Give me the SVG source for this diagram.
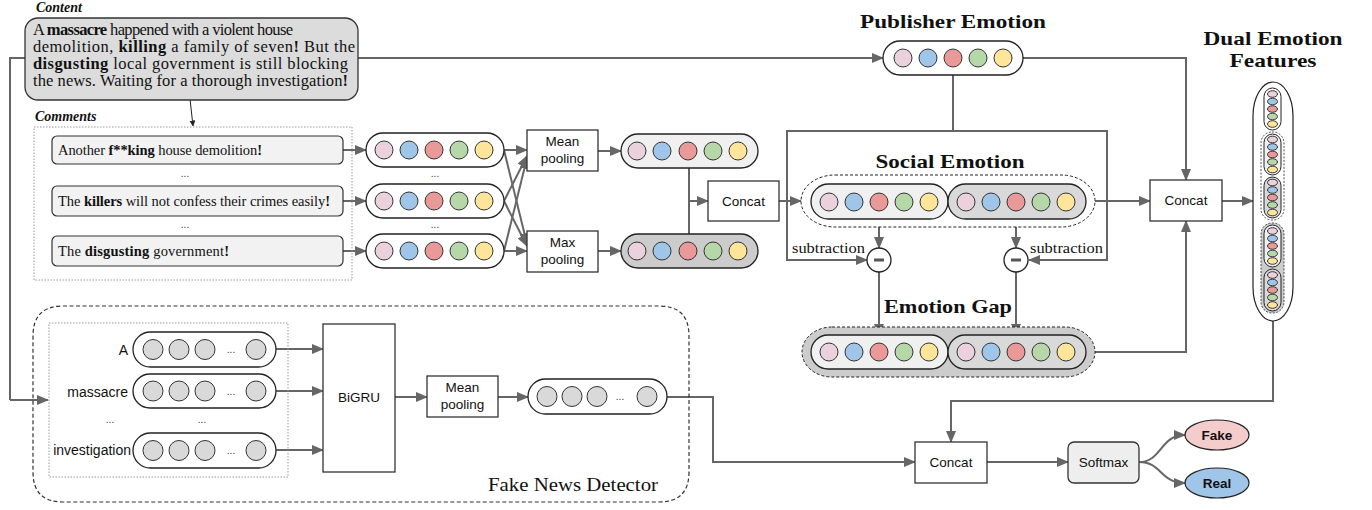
<svg xmlns="http://www.w3.org/2000/svg" width="1372" height="510" viewBox="0 0 1372 510">
<defs>
<marker id="ah" markerUnits="userSpaceOnUse" markerWidth="12" markerHeight="10" refX="11" refY="5" orient="auto">
<path d="M0,0 L12,5 L0,10 z" fill="#666"/>
</marker>
<marker id="ahs" markerUnits="userSpaceOnUse" markerWidth="6" markerHeight="6" refX="5.5" refY="3" orient="auto">
<path d="M0,0 L6,3 L0,6 z" fill="#222"/>
</marker>
<style>
.cn{fill:none;stroke:#666;stroke-width:2;marker-end:url(#ah)}
.ln{fill:none;stroke:#666;stroke-width:2}
.box{fill:#fff;stroke:#333;stroke-width:1.3}
.ov{fill:#fff;stroke:#222;stroke-width:1.3}
.c1{fill:#ead1dc;stroke:#333;stroke-width:1}
.c2{fill:#9fc5e8;stroke:#333;stroke-width:1}
.c3{fill:#ea9999;stroke:#333;stroke-width:1}
.c4{fill:#b6d7a8;stroke:#333;stroke-width:1}
.c5{fill:#ffe599;stroke:#333;stroke-width:1}
.cg{fill:#d9d9d9;stroke:#333;stroke-width:1}
.sans{font-family:"Liberation Sans",Arial,sans-serif;fill:#111}
.serif{font-family:"Liberation Serif","Times New Roman",serif;fill:#111}
.ttl{font-family:"Liberation Serif","Times New Roman",serif;font-weight:bold;font-size:19px;fill:#111;text-anchor:middle}
.lbl{font-family:"Liberation Sans",Arial,sans-serif;font-size:13.5px;fill:#111;text-anchor:middle}
.dots{font-family:"Liberation Sans",Arial,sans-serif;font-size:10px;fill:#333;text-anchor:middle}
</style>
</defs>
<rect width="1372" height="510" fill="#fff"/>

<!-- connectors -->
<g id="connectors">
<path class="ln" d="M25,58 H10 V400"/>
<path class="cn" d="M10,400 H48"/>
<path class="cn" d="M358,58 H883"/>
<path d="M190,99 L193,126" fill="none" stroke="#222" stroke-width="1" marker-end="url(#ahs)"/>
<path class="cn" d="M343,150 H366"/>
<path class="cn" d="M343,201 H366"/>
<path class="cn" d="M343,251 H366"/>
<path class="cn" d="M504,150 H527"/>
<path class="cn" d="M504,150 L527,244"/>
<path class="cn" d="M504,201 L527,156"/>
<path class="cn" d="M504,201 L527,246"/>
<path class="cn" d="M504,251 L527,158"/>
<path class="cn" d="M504,251 H527"/>
<path class="cn" d="M598,151 H621"/>
<path class="cn" d="M598,251 H621"/>
<path class="ln" d="M689,167 V234"/>
<path class="cn" d="M689,201 H708"/>
<path class="cn" d="M779,201 H801"/>
<path class="ln" d="M953,75 V131"/>
<path class="cn" d="M953,131 H787 V260 H867"/>
<path class="cn" d="M953,131 H1107 V260 H1029"/>
<path class="cn" d="M879,219 V248"/>
<path class="cn" d="M1016,219 V248"/>
<path class="cn" d="M879,272 V335"/>
<path class="cn" d="M1016,272 V335"/>
<path class="cn" d="M1023,58 H1186 V180"/>
<path class="cn" d="M1095,201 H1150"/>
<path class="cn" d="M1095,352 H1186 V221"/>
<path class="cn" d="M1222,201 H1253"/>
<path class="cn" d="M1273,321 V401 H951 V442"/>
<path class="cn" d="M276,349 H323"/>
<path class="cn" d="M276,391 H323"/>
<path class="cn" d="M276,450 H323"/>
<path class="cn" d="M395,397 H427"/>
<path class="cn" d="M498,397 H528"/>
<path class="cn" d="M667,397 H713 V462 H915"/>
<path class="cn" d="M987,462 H1068"/>
<path class="cn" d="M1139,462 C1162,462 1160,435 1185,435"/>
<path class="cn" d="M1139,462 C1162,462 1160,483 1185,483"/>
</g>

<!-- content -->
<g id="content">
<text class="serif" x="36" y="12" font-size="14" font-weight="bold" font-style="italic">Content</text>
<rect x="25" y="18" width="333" height="82" rx="13" fill="#dcdcdc" stroke="#333" stroke-width="1.3"/>
<text class="serif" x="33" y="35" font-size="16.5" textLength="260" lengthAdjust="spacing">A <tspan font-weight="bold">massacre</tspan> happened with a violent house</text>
<text class="serif" x="33" y="52" font-size="16.5" textLength="322" lengthAdjust="spacing">demolition, <tspan font-weight="bold">killing</tspan> a family of seven<tspan font-weight="bold">!</tspan> But the</text>
<text class="serif" x="33" y="69" font-size="16.5" textLength="315" lengthAdjust="spacing"><tspan font-weight="bold">disgusting</tspan> local government is still blocking</text>
<text class="serif" x="33" y="86" font-size="16.5" textLength="315" lengthAdjust="spacing">the news. Waiting for a thorough investigation<tspan font-weight="bold">!</tspan></text>
</g>

<!-- comments -->
<g id="comments">
<text class="serif" x="35" y="121" font-size="14" font-weight="bold" font-style="italic">Comments</text>
<rect x="34" y="127" width="318" height="153" fill="none" stroke="#999" stroke-width="1" stroke-dasharray="1.5,1.5"/>
<rect x="52" y="136" width="291" height="28" rx="5" fill="#f2f2f2" stroke="#333" stroke-width="1.2"/>
<text class="serif" x="58" y="155" font-size="14.5" textLength="204" lengthAdjust="spacing">Another <tspan font-weight="bold">f**king</tspan> house demolition<tspan font-weight="bold">!</tspan></text>
<text class="dots" x="185" y="177">...</text>
<rect x="52" y="186" width="291" height="30" rx="5" fill="#f2f2f2" stroke="#333" stroke-width="1.2"/>
<text class="serif" x="58" y="206" font-size="14.5" textLength="272" lengthAdjust="spacing">The <tspan font-weight="bold">killers</tspan> will not confess their crimes easily<tspan font-weight="bold">!</tspan></text>
<text class="dots" x="185" y="228">...</text>
<rect x="52" y="236" width="291" height="30" rx="5" fill="#f2f2f2" stroke="#333" stroke-width="1.2"/>
<text class="serif" x="58" y="256" font-size="14.5" textLength="171" lengthAdjust="spacing">The <tspan font-weight="bold">disgusting</tspan> government<tspan font-weight="bold">!</tspan></text>
</g>

<!-- comment emotion vectors -->
<g id="comment-emotions">
<rect class="ov" x="366" y="133" width="138" height="34" rx="17"/>
<circle class="c1" cx="384" cy="150" r="9"/><circle class="c2" cx="409" cy="150" r="9"/><circle class="c3" cx="434" cy="150" r="9"/><circle class="c4" cx="459" cy="150" r="9"/><circle class="c5" cx="484" cy="150" r="9"/>
<text class="dots" x="435" y="177">...</text>
<rect class="ov" x="366" y="184" width="138" height="34" rx="17"/>
<circle class="c1" cx="384" cy="201" r="9"/><circle class="c2" cx="409" cy="201" r="9"/><circle class="c3" cx="434" cy="201" r="9"/><circle class="c4" cx="459" cy="201" r="9"/><circle class="c5" cx="484" cy="201" r="9"/>
<text class="dots" x="435" y="228">...</text>
<rect class="ov" x="366" y="234" width="138" height="34" rx="17"/>
<circle class="c1" cx="384" cy="251" r="9"/><circle class="c2" cx="409" cy="251" r="9"/><circle class="c3" cx="434" cy="251" r="9"/><circle class="c4" cx="459" cy="251" r="9"/><circle class="c5" cx="484" cy="251" r="9"/>
</g>

<g id="mean-pooling">
<rect class="box" x="527" y="130" width="71" height="41"/>
<text class="lbl" x="562.5" y="146">Mean</text>
<text class="lbl" x="562.5" y="163">pooling</text>
</g>
<g id="max-pooling">
<rect class="box" x="527" y="231" width="71" height="41"/>
<text class="lbl" x="562.5" y="247">Max</text>
<text class="lbl" x="562.5" y="264">pooling</text>
</g>

<g id="mean-vector">
<rect x="621" y="134" width="137" height="34" rx="17" fill="#f0f0f0" stroke="#222" stroke-width="1.3"/>
<circle class="c1" cx="637" cy="151" r="9"/><circle class="c2" cx="662" cy="151" r="9"/><circle class="c3" cx="688" cy="151" r="9"/><circle class="c4" cx="713" cy="151" r="9"/><circle class="c5" cx="738" cy="151" r="9"/>
</g>
<g id="max-vector">
<rect x="621" y="234" width="137" height="34" rx="17" fill="#cccccc" stroke="#222" stroke-width="1.3"/>
<circle class="c1" cx="637" cy="251" r="9"/><circle class="c2" cx="662" cy="251" r="9"/><circle class="c3" cx="688" cy="251" r="9"/><circle class="c4" cx="713" cy="251" r="9"/><circle class="c5" cx="738" cy="251" r="9"/>
</g>

<g id="concat1">
<rect class="box" x="708" y="181" width="71" height="40"/>
<text class="lbl" x="743.5" y="206">Concat</text>
</g>

<!-- publisher emotion -->
<g id="publisher-emotion">
<text class="ttl" x="953" y="28" textLength="186" lengthAdjust="spacingAndGlyphs">Publisher Emotion</text>
<rect class="ov" x="883" y="41" width="140" height="34" rx="17"/>
<circle class="c1" cx="903" cy="58" r="9"/><circle class="c2" cx="928" cy="58" r="9"/><circle class="c3" cx="953" cy="58" r="9"/><circle class="c4" cx="978" cy="58" r="9"/><circle class="c5" cx="1003" cy="58" r="9"/>
</g>

<!-- social emotion -->
<g id="social-emotion">
<text class="ttl" x="950" y="168" textLength="149" lengthAdjust="spacingAndGlyphs">Social Emotion</text>
<rect x="801" y="175" width="294" height="52" rx="34" ry="26" fill="#fff" stroke="#222" stroke-width="1" stroke-dasharray="3,2"/>
<rect x="811" y="184" width="137" height="35" rx="17.5" fill="#f0f0f0" stroke="#222" stroke-width="1.3"/>
<rect x="948" y="184" width="138" height="35" rx="17.5" fill="#d9d9d9" stroke="#222" stroke-width="1.3"/>
<circle class="c1" cx="829" cy="202" r="9"/><circle class="c2" cx="854" cy="202" r="9"/><circle class="c3" cx="879" cy="202" r="9"/><circle class="c4" cx="904" cy="202" r="9"/><circle class="c5" cx="929" cy="202" r="9"/>
<circle class="c1" cx="966" cy="202" r="9"/><circle class="c2" cx="991" cy="202" r="9"/><circle class="c3" cx="1016" cy="202" r="9"/><circle class="c4" cx="1041" cy="202" r="9"/><circle class="c5" cx="1066" cy="202" r="9"/>
</g>

<g id="subtraction-left">
<text class="serif" x="792" y="253" font-size="15" textLength="73" lengthAdjust="spacingAndGlyphs">subtraction</text>
<circle cx="879" cy="260" r="12" fill="#fff" stroke="#222" stroke-width="1.3"/>
<line x1="874" y1="260" x2="884" y2="260" stroke="#555" stroke-width="3"/>
</g>
<g id="subtraction-right">
<text class="serif" x="1030" y="253" font-size="15" textLength="73" lengthAdjust="spacingAndGlyphs">subtraction</text>
<circle cx="1016" cy="260" r="12" fill="#fff" stroke="#222" stroke-width="1.3"/>
<line x1="1011" y1="260" x2="1021" y2="260" stroke="#555" stroke-width="3"/>
</g>

<!-- emotion gap -->
<g id="emotion-gap">
<text class="ttl" x="948" y="313" textLength="128" lengthAdjust="spacingAndGlyphs">Emotion Gap</text>
<rect x="802" y="327" width="293" height="50" rx="30" ry="25" fill="#cccccc" stroke="#222" stroke-width="1" stroke-dasharray="3,2"/>
<rect x="811" y="335" width="137" height="34" rx="17" fill="#f0f0f0" stroke="#222" stroke-width="1.3"/>
<rect x="948" y="335" width="138" height="34" rx="17" fill="#d9d9d9" stroke="#222" stroke-width="1.3"/>
<circle class="c1" cx="829" cy="352" r="9"/><circle class="c2" cx="854" cy="352" r="9"/><circle class="c3" cx="879" cy="352" r="9"/><circle class="c4" cx="904" cy="352" r="9"/><circle class="c5" cx="929" cy="352" r="9"/>
<circle class="c1" cx="966" cy="352" r="9"/><circle class="c2" cx="991" cy="352" r="9"/><circle class="c3" cx="1016" cy="352" r="9"/><circle class="c4" cx="1041" cy="352" r="9"/><circle class="c5" cx="1066" cy="352" r="9"/>
</g>

<g id="concat2">
<rect class="box" x="1150" y="180" width="72" height="41"/>
<text class="lbl" x="1186" y="205">Concat</text>
</g>

<!-- dual emotion features -->
<g id="dual-emotion">
<text class="ttl" x="1273" y="45" textLength="139" lengthAdjust="spacingAndGlyphs">Dual Emotion</text>
<text class="ttl" x="1273" y="67" textLength="87" lengthAdjust="spacingAndGlyphs">Features</text>
<rect x="1253" y="82" width="40" height="239" rx="20" ry="34" fill="#fff" stroke="#222" stroke-width="1.2"/>
<rect x="1264" y="88" width="17" height="42" rx="8.5" fill="#fff" stroke="#222" stroke-width="1"/>
<rect x="1261" y="132" width="23" height="88" rx="11" fill="#fff" stroke="#222" stroke-width="0.8" stroke-dasharray="2,1.5"/>
<rect x="1264" y="134" width="17" height="41" rx="8.5" fill="#f0f0f0" stroke="#222" stroke-width="1"/>
<rect x="1264" y="177" width="17" height="41" rx="8.5" fill="#d9d9d9" stroke="#222" stroke-width="1"/>
<rect x="1261" y="223" width="23" height="90" rx="11" fill="#cccccc" stroke="#222" stroke-width="0.8" stroke-dasharray="2,1.5"/>
<rect x="1264" y="225" width="17" height="42" rx="8.5" fill="#f0f0f0" stroke="#222" stroke-width="1"/>
<rect x="1264" y="269" width="17" height="42" rx="8.5" fill="#d9d9d9" stroke="#222" stroke-width="1"/>
<g stroke-width="0.8">
<ellipse class="c1" cx="1272.5" cy="94" rx="5" ry="3.3"/><ellipse class="c2" cx="1272.5" cy="101.5" rx="5" ry="3.3"/><ellipse class="c3" cx="1272.5" cy="109" rx="5" ry="3.3"/><ellipse class="c4" cx="1272.5" cy="116.5" rx="5" ry="3.3"/><ellipse class="c5" cx="1272.5" cy="124" rx="5" ry="3.3"/>
<ellipse class="c1" cx="1272.5" cy="139.5" rx="5" ry="3.3"/><ellipse class="c2" cx="1272.5" cy="147" rx="5" ry="3.3"/><ellipse class="c3" cx="1272.5" cy="154.5" rx="5" ry="3.3"/><ellipse class="c4" cx="1272.5" cy="162" rx="5" ry="3.3"/><ellipse class="c5" cx="1272.5" cy="169.5" rx="5" ry="3.3"/>
<ellipse class="c1" cx="1272.5" cy="182.5" rx="5" ry="3.3"/><ellipse class="c2" cx="1272.5" cy="190" rx="5" ry="3.3"/><ellipse class="c3" cx="1272.5" cy="197.5" rx="5" ry="3.3"/><ellipse class="c4" cx="1272.5" cy="205" rx="5" ry="3.3"/><ellipse class="c5" cx="1272.5" cy="212.5" rx="5" ry="3.3"/>
<ellipse class="c1" cx="1272.5" cy="231" rx="5" ry="3.3"/><ellipse class="c2" cx="1272.5" cy="238.5" rx="5" ry="3.3"/><ellipse class="c3" cx="1272.5" cy="246" rx="5" ry="3.3"/><ellipse class="c4" cx="1272.5" cy="253.5" rx="5" ry="3.3"/><ellipse class="c5" cx="1272.5" cy="261" rx="5" ry="3.3"/>
<ellipse class="c1" cx="1272.5" cy="275" rx="5" ry="3.3"/><ellipse class="c2" cx="1272.5" cy="282.5" rx="5" ry="3.3"/><ellipse class="c3" cx="1272.5" cy="290" rx="5" ry="3.3"/><ellipse class="c4" cx="1272.5" cy="297.5" rx="5" ry="3.3"/><ellipse class="c5" cx="1272.5" cy="305" rx="5" ry="3.3"/>
</g>
</g>

<!-- fake news detector -->
<g id="fake-news-detector">
<path d="M63,306 H659 Q689,306 689,336 V472 Q689,502 659,502 H63 Q33,502 33,472 V336 Q33,306 63,306 Z" fill="none" stroke="#333" stroke-width="1.2" stroke-dasharray="4,2.5"/>
<text class="serif" x="488" y="491" font-size="19" textLength="170" lengthAdjust="spacingAndGlyphs">Fake News Detector</text>
<rect x="49" y="323" width="239" height="154" fill="none" stroke="#999" stroke-width="1" stroke-dasharray="1.5,1.5"/>
</g>

<g id="word-embeddings">
<text class="sans" x="128" y="355" font-size="14" text-anchor="end">A</text>
<rect class="ov" x="133" y="332" width="143" height="35" rx="17.5"/>
<circle class="cg" cx="153" cy="349.5" r="10"/><circle class="cg" cx="179" cy="349.5" r="10"/><circle class="cg" cx="205" cy="349.5" r="10"/><text class="dots" x="231" y="353">...</text><circle class="cg" cx="256" cy="349.5" r="10"/>
<text class="sans" x="128" y="397" font-size="14" text-anchor="end">massacre</text>
<rect class="ov" x="133" y="374" width="143" height="34" rx="17"/>
<circle class="cg" cx="153" cy="391" r="10"/><circle class="cg" cx="179" cy="391" r="10"/><circle class="cg" cx="205" cy="391" r="10"/><text class="dots" x="231" y="394.5">...</text><circle class="cg" cx="256" cy="391" r="10"/>
<text class="dots" x="110" y="423">...</text>
<text class="dots" x="202" y="423">...</text>
<text class="sans" x="131" y="455" font-size="14" text-anchor="end">investigation</text>
<rect class="ov" x="133" y="433" width="143" height="35" rx="17.5"/>
<circle class="cg" cx="153" cy="450.5" r="10"/><circle class="cg" cx="179" cy="450.5" r="10"/><circle class="cg" cx="205" cy="450.5" r="10"/><text class="dots" x="231" y="454">...</text><circle class="cg" cx="256" cy="450.5" r="10"/>
</g>

<g id="bigru">
<rect class="box" x="323" y="324" width="72" height="148"/>
<text class="lbl" x="359" y="402">BiGRU</text>
</g>

<g id="mean-pooling-2">
<rect class="box" x="427" y="376" width="71" height="41"/>
<text class="lbl" x="462.5" y="392">Mean</text>
<text class="lbl" x="462.5" y="409">pooling</text>
</g>

<g id="content-vector">
<rect class="ov" x="528" y="379" width="139" height="35" rx="17.5"/>
<circle class="cg" cx="547" cy="396.5" r="10"/><circle class="cg" cx="572" cy="396.5" r="10"/><circle class="cg" cx="597" cy="396.5" r="10"/><text class="dots" x="620" y="400">...</text><circle class="cg" cx="647" cy="396.5" r="10"/>
</g>

<g id="concat3">
<rect class="box" x="915" y="442" width="72" height="41"/>
<text class="lbl" x="951" y="467">Concat</text>
</g>

<g id="softmax">
<rect x="1068" y="442" width="71" height="41" rx="6" fill="#eeeeee" stroke="#333" stroke-width="1.3"/>
<text class="lbl" x="1103.5" y="467">Softmax</text>
</g>

<g id="fake">
<ellipse cx="1217" cy="435" rx="32" ry="15" fill="#f4cccc" stroke="#222" stroke-width="1.2"/>
<text class="lbl" x="1217" y="440" font-weight="bold" font-size="14">Fake</text>
</g>
<g id="real">
<ellipse cx="1217" cy="483" rx="32" ry="15" fill="#9fc5e8" stroke="#222" stroke-width="1.2"/>
<text class="lbl" x="1217" y="488" font-weight="bold" font-size="14">Real</text>
</g>
</svg>
